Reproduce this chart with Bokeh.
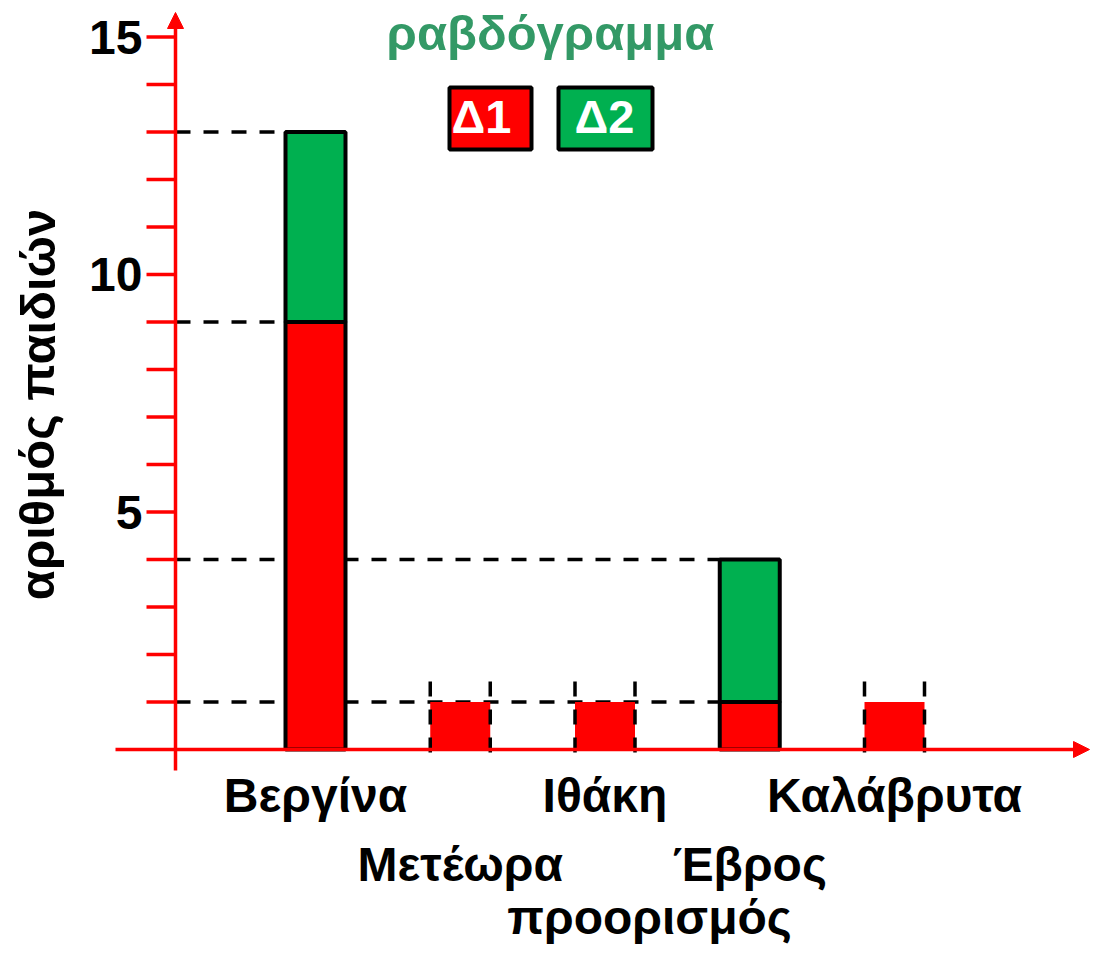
from bokeh.plotting import figure
from bokeh.models import Range1d, Arrow, NormalHead
from bokeh.core.properties import value
from bokeh.embed import file_html
from bokeh.resources import INLINE

# ---- data ----
categories = ["Βεργίνα", "Μετέωρα", "Ιθάκη", "Έβρος", "Καλάβρυτα"]
d1 = [9, 1, 1, 1, 1]
d2 = [4, 0, 0, 3, 0]
series = ["Δ1", "Δ2"]
y_tick_labels = [5, 10, 15]
title_text = "ραβδόγραμμα"
x_title = "προορισμός"
y_title = "αριθμός παιδιών"

RED = "#FF0000"
GREEN = "#00B050"
FONT = value("Liberation Sans")

# ---- page pixel <-> data mapping (layout only) ----
W, H = 1090, 948
OFF = 0
X_CENTER0, X_STEP = 315.0, 144.75   # page x of first category, spacing
Y_ZERO, Y_UNIT = 749.0, 47.5        # page y of value 0, px per unit

def px(page_x):
    return (page_x - X_CENTER0) / X_STEP

def py(page_y):
    return (Y_ZERO - page_y) / Y_UNIT

p = figure(width=W, height=H,
           x_range=Range1d(px(OFF), px(OFF + W)),
           y_range=Range1d(py(OFF + H), py(OFF)),
           output_backend="svg", toolbar_location=None,
           x_axis_location=None, y_axis_location=None,
           min_border=0)
p.grid.visible = False
p.outline_line_color = None
p.background_fill_color = "white"
p.border_fill_color = "white"

xs = list(range(len(categories)))
BAR_W = 60 / X_STEP
AXIS_X = px(175)

# ---- axes (red with arrows) ----
p.add_layout(Arrow(end=NormalHead(size=16, fill_color=RED, line_color=RED),
                   x_start=AXIS_X, y_start=py(770), x_end=AXIS_X, y_end=py(12),
                   line_color=RED, line_width=3.5))
p.add_layout(Arrow(end=NormalHead(size=16, fill_color=RED, line_color=RED),
                   x_start=px(115), y_start=0, x_end=px(1089), y_end=0,
                   line_color=RED, line_width=3.5))

ticks = list(range(1, 16))
p.segment(x0=[px(146)] * len(ticks), y0=ticks, x1=[AXIS_X] * len(ticks), y1=ticks,
          line_color=RED, line_width=3.5)
p.text(x=[px(142)] * len(y_tick_labels), y=y_tick_labels,
       text=[str(v) for v in y_tick_labels],
       text_align="right", text_baseline="middle",
       text_font=FONT, text_font_style="bold", text_font_size="48px",
       text_color="black")

# ---- dashed guide lines for outlined bars ----
hx0, hy, hx1 = [], [], []
for i in xs:
    if d2[i] > 0:
        for lvl in (d1[i], d1[i] + d2[i]):
            hx0.append(AXIS_X)
            hx1.append(i - BAR_W / 2)
            hy.append(lvl)
p.segment(x0=hx0, y0=hy, x1=hx1, y1=hy, line_color="black",
          line_width=3.5, line_dash="15 13")

# ---- bars ----
out_i = [i for i in xs if d2[i] > 0]
plain_i = [i for i in xs if d2[i] == 0]
p.vbar(x=plain_i, width=BAR_W, bottom=0, top=[d1[i] for i in plain_i],
       fill_color=RED, line_color=None)
p.vbar(x=out_i, width=BAR_W, bottom=0, top=[d1[i] for i in out_i],
       fill_color=RED, line_color="black", line_width=4)
p.vbar(x=out_i, width=BAR_W, bottom=[d1[i] for i in out_i],
       top=[d1[i] + d2[i] for i in out_i],
       fill_color=GREEN, line_color="black", line_width=4)

# vertical dashed lines at edges of plain bars
vx = []
for i in plain_i:
    vx += [i - BAR_W / 2, i + BAR_W / 2]
p.segment(x0=vx, y0=[py(681)] * len(vx), x1=vx, y1=[py(753)] * len(vx),
          line_color="black", line_width=3.5, line_dash="15 13")

# ---- category labels (two alternating rows) ----
rows_y = [py(795) if i % 2 == 0 else py(864) for i in xs]
p.text(x=xs, y=rows_y, text=categories, text_align="center",
       text_baseline="middle", text_font=FONT, text_font_style="bold",
       text_font_size="48px", text_color="black")

# axis titles
p.text(x=[px(649)], y=[py(917)], text=[x_title], text_align="center",
       text_baseline="middle", text_font=FONT, text_font_style="bold",
       text_font_size="48px", text_color="black")
p.text(x=[px(37)], y=[py(404)], text=[y_title], angle=1.5707963,
       text_align="center", text_baseline="middle", text_font=FONT,
       text_font_style="bold", text_font_size="49px", text_color="black")

# title
p.text(x=[px(550)], y=[py(32)], text=[title_text], text_align="center",
       text_baseline="middle", text_font=FONT, text_font_style="bold",
       text_font_size="49px", text_color="#339966")

# legend boxes
p.rect(x=[px(490), px(605)], y=[py(118)] * 2, width=[82, 94], height=[62, 62],
       width_units="screen", height_units="screen",
       fill_color=[RED, GREEN], line_color="black", line_width=4)
p.text(x=[px(481), px(604)], y=[py(116)] * 2, text=series, text_align="center",
       text_baseline="middle", text_font=FONT, text_font_style="bold",
       text_font_size="47px", text_color="white")

open("out.html", "w").write(file_html(p, INLINE))
